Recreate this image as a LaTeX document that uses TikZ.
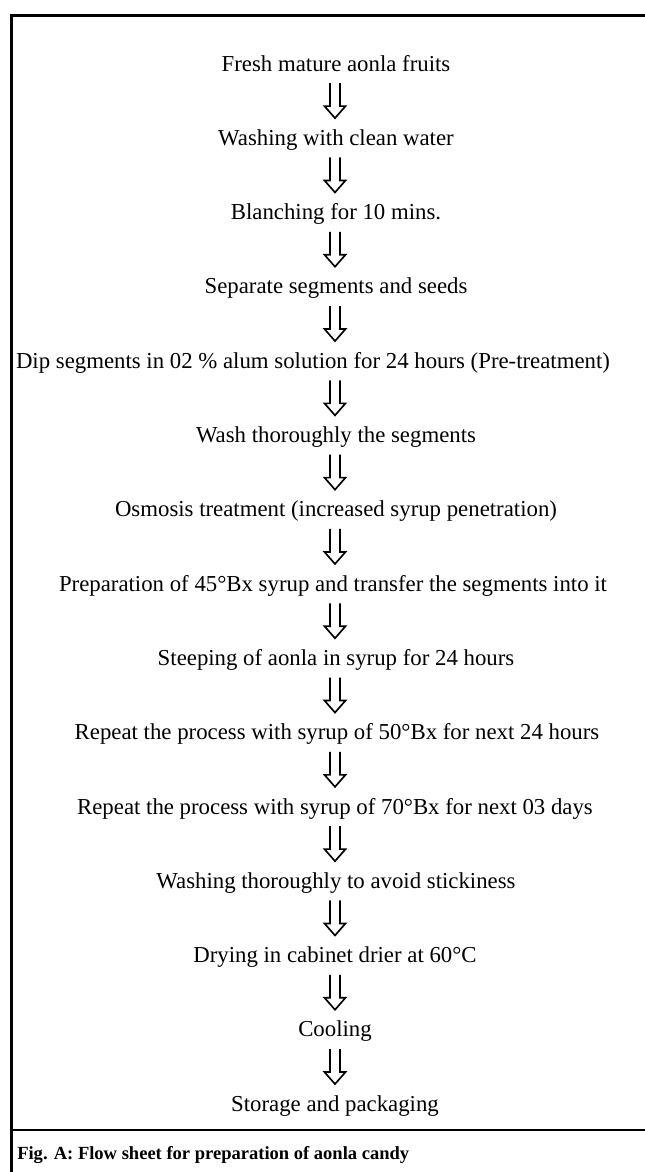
\documentclass[tikz,border=0pt]{standalone}
\usepackage{fontspec}
\setmainfont{Liberation Serif}
\usetikzlibrary{calc}
\tikzset{
  stepnode/.style={anchor=base,inner sep=0pt,outer sep=0pt,font=\fontsize{17.1}{20}\selectfont},
  captionnode/.style={anchor=base west,inner sep=0pt,font=\fontsize{13.9}{16}\selectfont\bfseries},
  frameline/.style={line width=2.2pt,line cap=rect},
  harrow/.pic={\draw[line width=1.25pt,line join=miter]
     (-5,-25) -- (-5,-2) -- (-10.5,-2) -- (0,10) -- (10.5,-2) -- (5,-2) -- (5,-25);}
}
\begin{document}
\begin{tikzpicture}[x=0.75pt,y=-0.75pt]
\useasboundingbox (0,0) rectangle (645,1172);
% frame
\coordinate (tl) at (11.5,15.5);
\coordinate (tr) at (650,15.5);
\coordinate (bl) at (11.5,1180);
\coordinate (ml) at (11.5,1130);
\coordinate (mr) at (650,1130);
\draw[frameline] (tr) -- (tl) -- (bl);
\draw[frameline] (ml) -- (mr);
% steps
\node[stepnode] (n1) at (336,71) {Fresh mature aonla fruits};
\node[stepnode] (n2) at (336,145.3) {Washing with clean water};
\node[stepnode] (n3) at (336,219.6) {Blanching for 10 mins.};
\node[stepnode] (n4) at (336,293.9) {Separate segments and seeds};
\node[stepnode] (n5) at (313,368.2) {Dip segments in 02 \% alum solution for 24 hours (Pre-treatment)};
\node[stepnode] (n6) at (336,442.5) {Wash thoroughly the segments};
\node[stepnode] (n7) at (336,516.8) {Osmosis treatment (increased syrup penetration)};
\node[stepnode] (n8) at (333,591.1) {Preparation of 45°Bx syrup and transfer the segments into it};
\node[stepnode] (n9) at (336,665.4) {Steeping of aonla in syrup for 24 hours};
\node[stepnode] (n10) at (337,739.7) {Repeat the process with syrup of 50°Bx for next 24 hours};
\node[stepnode] (n11) at (335,814) {Repeat the process with syrup of 70°Bx for next 03 days};
\node[stepnode] (n12) at (336,888.3) {Washing thoroughly to avoid stickiness};
\node[stepnode] (n13) at (335,962.6) {Drying in cabinet drier at 60°C};
\node[stepnode] (n14) at (335,1036.9) {Cooling};
\node[stepnode] (n15) at (335,1111.2) {Storage and packaging};
% arrows
\coordinate (ax) at (335,0);
\foreach \a/\b in {n1/n2,n2/n3,n3/n4,n4/n5,n5/n6,n6/n7,n7/n8,n8/n9,n9/n10,n10/n11,n11/n12,n12/n13,n13/n14,n14/n15}{
  \coordinate (m) at ($(\a.base)!0.5!(\b.base)$);
  \pic at (m -| ax) {harrow};
}
% caption
\node[captionnode] (cap) at (17,1159) {Fig. A: Flow sheet for preparation of aonla candy};
\end{tikzpicture}
\end{document}
